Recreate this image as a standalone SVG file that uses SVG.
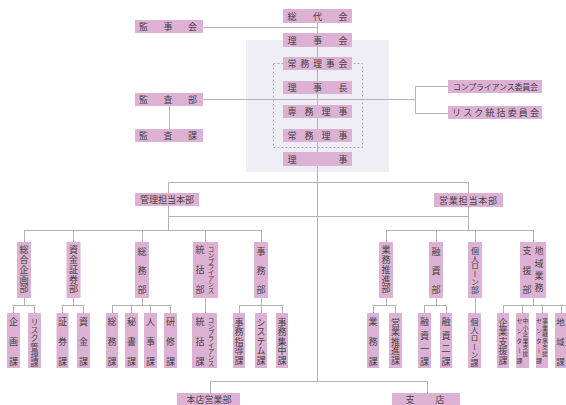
<svg xmlns="http://www.w3.org/2000/svg" width="566" height="405" viewBox="0 0 566 405">
<style>
.b{fill:#dcb1d3}
.t{font-family:"Noto Sans CJK JP","Noto Sans CJK SC",sans-serif;font-size:9px;fill:#444;dominant-baseline:central}
.v{font-family:"Noto Sans CJK JP","Noto Sans CJK SC",sans-serif;font-size:9px;fill:#444;writing-mode:vertical-rl}
.c{fill:none;stroke:#b3b3b3;stroke-width:1}
</style>
<rect x="246" y="40" width="143" height="132" fill="#efeef7"/>
<rect x="273.5" y="63.5" width="89" height="84" fill="none" stroke="#aaa" stroke-width="1" stroke-dasharray="2,2"/>
<g id="connectors" class="c">
<path d="M317.5,16V381.5"/>
<path d="M203,27.5H317.5"/>
<path d="M203,99.5H415.5"/>
<path d="M169.5,106V129"/>
<path d="M415.5,86.5V113.5M415.5,86.5H448M415.5,113.5H448"/>
<path d="M168.5,182.5H468.5M168.5,182.5V230.5M468.5,182.5V230.5M168.5,216.5H468.5"/>
<path d="M24.5,230.5H261.5M24.5,230V242M73.5,230V242M142.5,230V242M205.5,230V242M261.5,230V242"/>
<path d="M386.5,230.5H533.5M386.5,230V242M436.5,230V242M475.5,230V242M533.5,230V242"/>
<path d="M24.5,298V305.5M13.5,305.5H34.5M13.5,305V313M34.5,305V313"/>
<path d="M73.5,298V305.5M62.5,305.5H83.5M62.5,305V313M83.5,305V313"/>
<path d="M142.5,298V305.5M112.5,305.5H170.5M112.5,305V313M131.5,305V313M150.5,305V313M170.5,305V313"/>
<path d="M205.5,298V313"/>
<path d="M261.5,298V305.5M239.5,305.5H282.5M239.5,305V313M261.5,305V313M282.5,305V313"/>
<path d="M386.5,298V305.5M373.5,305.5H395.5M373.5,305V313M395.5,305V313"/>
<path d="M436.5,298V305.5M424.5,305.5H446.5M424.5,305V313M446.5,305V313"/>
<path d="M475.5,298V313"/>
<path d="M533.5,298V305.5M503.5,305.5H566M503.5,305V313M522.5,305V313M542.5,305V313M561.5,305V313"/>
<path d="M210.5,381.5H427.5M210.5,381V393M427.5,381V393"/>
</g>
<g id="sodaikai"><rect class="b" x="283" y="9" width="69" height="14"/><text class="t" x="287.5" y="16" textLength="60" lengthAdjust="spacing">総代会</text></g>
<g id="rijikai"><rect class="b" x="283" y="33" width="69" height="14"/><text class="t" x="287.5" y="40" textLength="60" lengthAdjust="spacing">理事会</text></g>
<g id="jomurijikai"><rect class="b" x="283" y="57" width="69" height="13"/><text class="t" x="287.5" y="63.5" textLength="60" lengthAdjust="spacing">常務理事会</text></g>
<g id="rijicho"><rect class="b" x="283" y="81" width="69" height="13"/><text class="t" x="287.5" y="87.5" textLength="60" lengthAdjust="spacing">理事長</text></g>
<g id="senmuriji"><rect class="b" x="283" y="105" width="69" height="13"/><text class="t" x="287.5" y="111.5" textLength="60" lengthAdjust="spacing">専務理事</text></g>
<g id="jomuriji"><rect class="b" x="283" y="129" width="69" height="13"/><text class="t" x="287.5" y="135.5" textLength="60" lengthAdjust="spacing">常務理事</text></g>
<g id="riji"><rect class="b" x="283" y="152" width="69" height="14"/><text class="t" x="287.5" y="159" textLength="60" lengthAdjust="spacing">理事</text></g>
<g id="kanjikai"><rect class="b" x="135" y="20" width="68" height="13"/><text class="t" x="139" y="26.5" textLength="58" lengthAdjust="spacing">監事会</text></g>
<g id="kansabu"><rect class="b" x="135" y="93" width="68" height="13"/><text class="t" x="139" y="99.5" textLength="58" lengthAdjust="spacing">監査部</text></g>
<g id="kansaka"><rect class="b" x="135" y="129" width="68" height="13"/><text class="t" x="139" y="135.5" textLength="58" lengthAdjust="spacing">監査課</text></g>
<g id="compliance-iinkai"><rect class="b" x="448" y="80" width="94" height="13"/><text class="t" x="453" y="86.5" style="font-size:8px" textLength="85" lengthAdjust="spacing">コンプライアンス委員会</text></g>
<g id="risk-iinkai"><rect class="b" x="448" y="106" width="94" height="13"/><text class="t" x="452" y="112.5" textLength="87" lengthAdjust="spacing">リスク統括委員会</text></g>
<g id="kanri-honbu"><rect class="b" x="135" y="193" width="64" height="13"/><text class="t" x="140" y="199.5" textLength="54" lengthAdjust="spacing">管理担当本部</text></g>
<g id="eigyo-honbu"><rect class="b" x="434" y="193" width="69" height="14"/><text class="t" x="439" y="200" textLength="58" lengthAdjust="spacing">営業担当本部</text></g>
<g id="honten"><rect class="b" x="177" y="393" width="63" height="12"/><text class="t" x="186.5" y="399" textLength="45" lengthAdjust="spacing">本店営業部</text></g>
<g id="shiten"><rect class="b" x="392" y="393" width="68" height="12"/><text class="t" x="405.5" y="399" textLength="39" lengthAdjust="spacing">支店</text></g>
<g id="sogokikakubu"><rect class="b" x="17" y="242" width="14" height="56"/><text class="v" x="24" y="245.5" style="letter-spacing:0.75px">総合企画部</text></g>
<g id="shikinshokenbu"><rect class="b" x="66.5" y="242" width="14" height="56"/><text class="v" x="73.5" y="245.5" style="letter-spacing:0.75px">資金証券部</text></g>
<g id="somubu"><rect class="b" x="135" y="242" width="14" height="56"/><text class="v" x="142" y="247.5" style="letter-spacing:10px">総務部</text></g>
<g id="compliancebu"><rect class="b" x="193" y="242" width="25" height="56"/><text class="v"><tspan x="211" y="246" style="font-size:6.5px;letter-spacing:-0.6px">コンプライアンス</tspan><tspan x="200" y="245.5" style="letter-spacing:11px">統括部</tspan></text></g>
<g id="jimubu"><rect class="b" x="254" y="242" width="14" height="56"/><text class="v" x="261" y="247.5" style="letter-spacing:10px">事務部</text></g>
<g id="gyomusuishinbu"><rect class="b" x="379" y="242" width="14" height="56"/><text class="v" x="386" y="245.5" style="letter-spacing:0.75px">業務推進部</text></g>
<g id="yushibu"><rect class="b" x="429" y="242" width="14" height="56"/><text class="v" x="436" y="247.5" style="letter-spacing:10px">融資部</text></g>
<g id="kojinloanbu"><rect class="b" x="468" y="242" width="14" height="56"/><text class="v" x="475" y="247" style="font-size:8px;letter-spacing:-0.3px">個人ローン部</text></g>
<g id="chiikibu"><rect class="b" x="520" y="242" width="26" height="56"/><text class="v"><tspan x="539" y="246.5" style="letter-spacing:3.3px">地域業務</tspan><tspan x="527" y="246.5" style="letter-spacing:10.5px">支援部</tspan></text></g>
<g id="kikakuka"><rect class="b" x="7" y="313" width="13" height="55"/><text class="v" x="13.5" y="317.5" style="letter-spacing:11px">企画課</text></g>
<g id="riskkanrika"><rect class="b" x="28" y="313" width="13" height="55"/><text class="v" x="34.5" y="318" style="font-size:8px;letter-spacing:0.2px">リスク管理課</text></g>
<g id="shokenka"><rect class="b" x="56.5" y="313" width="12" height="55"/><text class="v" x="62.5" y="317.5" style="letter-spacing:11px">証券課</text></g>
<g id="shikinka"><rect class="b" x="77" y="313" width="13" height="55"/><text class="v" x="83.5" y="317.5" style="letter-spacing:11px">資金課</text></g>
<g id="somuka"><rect class="b" x="106" y="313" width="12" height="55"/><text class="v" x="112" y="317.5" style="letter-spacing:11px">総務課</text></g>
<g id="hishoka"><rect class="b" x="125" y="313" width="13" height="55"/><text class="v" x="131.5" y="317.5" style="letter-spacing:11px">秘書課</text></g>
<g id="jinjika"><rect class="b" x="144" y="313" width="13" height="55"/><text class="v" x="150.5" y="317.5" style="letter-spacing:11px">人事課</text></g>
<g id="kenshuka"><rect class="b" x="164" y="313" width="13" height="55"/><text class="v" x="170.5" y="317.5" style="letter-spacing:11px">研修課</text></g>
<g id="complianceka"><rect class="b" x="192" y="313" width="25" height="55"/><text class="v"><tspan x="211" y="317" style="font-size:6.5px;letter-spacing:-0.25px">コンプライアンス</tspan><tspan x="200" y="317.5" style="letter-spacing:11px">統括課</tspan></text></g>
<g id="jimushidoka"><rect class="b" x="233" y="313" width="12" height="55"/><text class="v" x="239" y="318" style="letter-spacing:0.5px">事務指導課</text></g>
<g id="systemka"><rect class="b" x="255" y="313" width="12" height="55"/><text class="v" x="261" y="318" style="letter-spacing:0.5px">システム課</text></g>
<g id="jimushuchuka"><rect class="b" x="276" y="313" width="12" height="55"/><text class="v" x="282" y="318" style="letter-spacing:0.5px">事務集中課</text></g>
<g id="gyomuka"><rect class="b" x="367" y="313" width="12" height="55"/><text class="v" x="373" y="317.5" style="letter-spacing:11px">業務課</text></g>
<g id="eigyosuishinka"><rect class="b" x="389" y="313" width="13" height="55"/><text class="v" x="395.5" y="318" style="letter-spacing:0.5px">営業推進課</text></g>
<g id="yushi1ka"><rect class="b" x="418" y="313" width="13" height="55"/><text class="v" x="424.5" y="317.5" style="letter-spacing:4.3px">融資一課</text></g>
<g id="yushi2ka"><rect class="b" x="440" y="313" width="12" height="55"/><text class="v" x="446" y="317.5" style="letter-spacing:4.3px">融資二課</text></g>
<g id="kojinloanka"><rect class="b" x="468" y="313" width="13" height="55"/><text class="v" x="474.5" y="318" style="font-size:8px;letter-spacing:0.2px">個人ローン課</text></g>
<g id="kigyoshienka"><rect class="b" x="497" y="313" width="12" height="55"/><text class="v" x="503" y="318" style="letter-spacing:0.5px">企業支援課</text></g>
<g id="chushokigyoka"><rect class="b" x="516" y="313" width="13" height="55"/><text class="v" style="font-size:6px"><tspan x="525.5" y="318" style="letter-spacing:0.5px">中小企業支援</tspan><tspan x="519.5" y="318" style="letter-spacing:4px">センター課</tspan></text></g>
<g id="jigyokeishoka"><rect class="b" x="536" y="313" width="12" height="55"/><text class="v" style="font-size:6px"><tspan x="545" y="318" style="letter-spacing:0.5px">事業継承支援</tspan><tspan x="539" y="318" style="letter-spacing:4px">センター課</tspan></text></g>
<g id="chiikika"><rect class="b" x="555" y="313" width="13" height="55"/><text class="v" x="560.5" y="317.75" style="font-size:8.5px;letter-spacing:11.5px">地域課</text></g>
</svg>
